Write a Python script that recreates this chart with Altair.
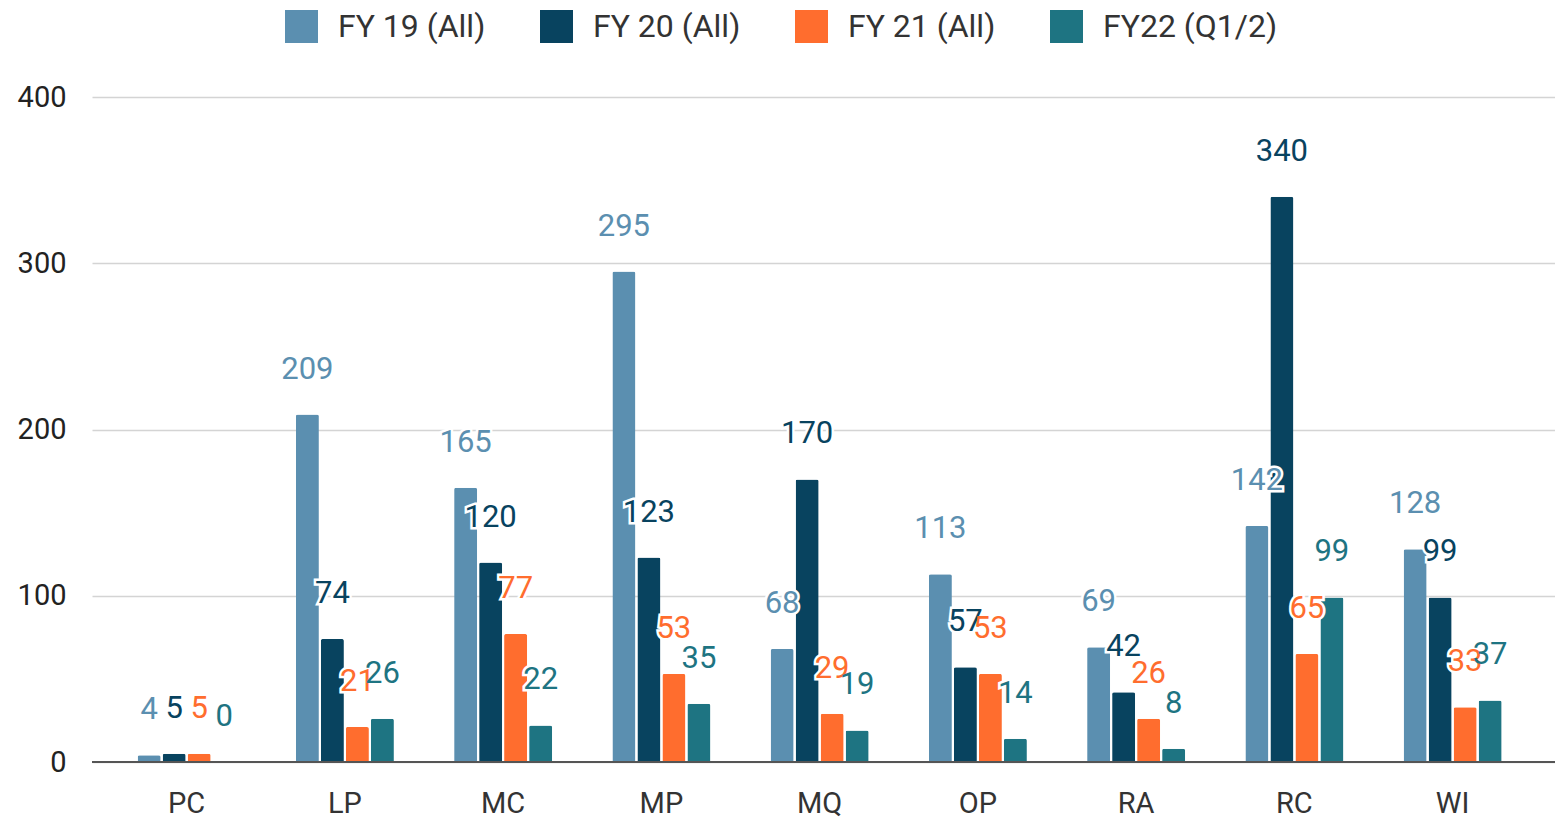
import altair as alt
import pandas as pd

categories = ["PC", "LP", "MC", "MP", "MQ", "OP", "RA", "RC", "WI"]
series = ["FY 19 (All)", "FY 20 (All)", "FY 21 (All)", "FY22 (Q1/2)"]
fy19 = [4, 209, 165, 295, 68, 113, 69, 142, 128]
fy20 = [5, 74, 120, 123, 170, 57, 42, 340, 99]
fy21 = [5, 21, 77, 53, 29, 53, 26, 65, 33]
fy22 = [0, 26, 22, 35, 19, 14, 8, 99, 37]
colors = ["#5b8fb0", "#08435f", "#ff6d2e", "#1e7482"]

rows = []
for s, vals in zip(series, [fy19, fy20, fy21, fy22]):
    for c, v in zip(categories, vals):
        rows.append({"cat": c, "series": s, "value": v})
df = pd.DataFrame(rows)

FONT = "Roboto"

x = alt.X("cat:N", sort=categories, title=None,
          scale=alt.Scale(paddingInner=0.368, paddingOuter=0.3065, align=0.46),
          axis=alt.Axis(labelAngle=0, labelFontSize=29, labelColor="#333333",
                        labelFont=FONT, labelPadding=27, ticks=False, domain=False))
xo = alt.XOffset("series:N", sort=series,
                 scale=alt.Scale(paddingInner=0.08, paddingOuter=0.04))
y = alt.Y("value:Q", title=None,
          scale=alt.Scale(domain=[0, 400]),
          axis=alt.Axis(values=[0, 100, 200, 300, 400], labelFontSize=29,
                        labelColor="#222222", labelFont=FONT, labelPadding=26,
                        ticks=False, domain=False, gridColor="#d4d4d4",
                        gridWidth=1.5))
color = alt.Color("series:N", sort=series,
                  scale=alt.Scale(domain=series, range=colors),
                  legend=alt.Legend(title=None, orient="none", direction="horizontal",
                                    legendX=193, legendY=-87,
                                    symbolType="square", symbolSize=1089,
                                    symbolStrokeWidth=0, symbolOpacity=1,
                                    labelFontSize=32, labelFont=FONT,
                                    labelColor="#333333", labelOffset=20,
                                    labelLimit=500, columnPadding=54))

base = alt.Chart(df)
bars = base.mark_bar(cornerRadiusTopLeft=2, cornerRadiusTopRight=2).encode(
    x=x, xOffset=xo, y=y, color=color)
halo = base.mark_text(baseline="alphabetic", dy=-36, fontSize=31, font=FONT,
                      stroke="white", strokeWidth=5, fill="white").encode(
    x=x, xOffset=xo, y=y, text="value:Q")
labels = base.mark_text(baseline="alphabetic", dy=-36, fontSize=31, font=FONT).encode(
    x=x, xOffset=xo, y=y, text="value:Q",
    color=alt.Color("series:N", sort=series,
                    scale=alt.Scale(domain=series, range=colors), legend=None))
zero = alt.Chart(pd.DataFrame({"v": [0]})).mark_rule(color="#555555", strokeWidth=2).encode(
    y=alt.Y("v:Q"))

chart = alt.layer(bars, zero, halo, labels).properties(
    width=1463, height=665,
    autosize=alt.AutoSizeParams(type="none"),
    padding={"left": 84, "top": 89, "right": 0, "bottom": 60},
).configure_view(stroke=None)

chart.save("out.html", embed_options={"renderer": "svg", "actions": False})
